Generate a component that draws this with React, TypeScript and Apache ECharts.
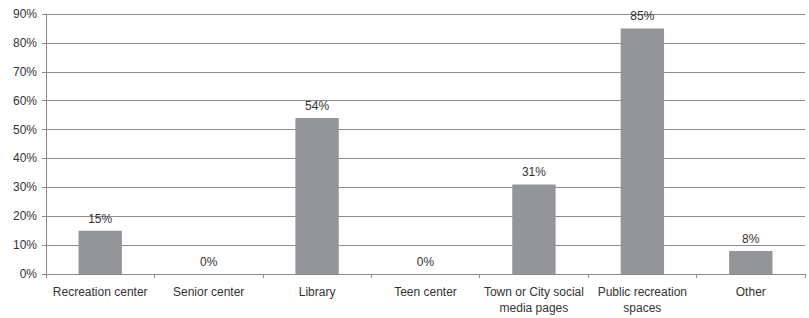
import React, { useEffect, useRef } from "react";
import * as echarts from "echarts";

const categories = [
  "Recreation center",
  "Senior center",
  "Library",
  "Teen center",
  "Town or City social\nmedia pages",
  "Public recreation\nspaces",
  "Other",
];
const values = [15, 0, 54, 0, 31, 85, 8];
const yMax = 90;
const yInterval = 10;

export default function App() {
  const ref = useRef<HTMLDivElement>(null);
  useEffect(() => {
    document.body.style.margin = "0";
    const chart = echarts.init(ref.current!, null, { renderer: "svg" });
    const font = "'Liberation Sans', 'DejaVu Sans', sans-serif";
    chart.setOption({
      animation: false,
      backgroundColor: "#ffffff",
      grid: { left: 46, right: 4, top: 14, bottom: 44, containLabel: false },
      xAxis: {
        type: "category",
        data: categories,
        axisLine: { lineStyle: { color: "#8c8c8c", width: 1 } },
        axisTick: { show: true, alignWithLabel: false, length: 4, lineStyle: { color: "#8c8c8c" } },
        axisLabel: {
          interval: 0,
          color: "#333333",
          fontFamily: font,
          fontSize: 12,
          margin: 10,
          lineHeight: 16,
        },
      },
      yAxis: {
        type: "value",
        min: 0,
        max: yMax,
        interval: yInterval,
        axisLine: { show: true, lineStyle: { color: "#8c8c8c", width: 1 } },
        axisTick: { show: true, length: 4, lineStyle: { color: "#8c8c8c" } },
        axisLabel: {
          formatter: "{value}%",
          color: "#333333",
          fontFamily: font,
          fontSize: 12,
          margin: 9,
        },
        splitLine: { show: true, lineStyle: { color: "#8c8c8c", width: 1 } },
      },
      series: [
        {
          type: "bar",
          data: values,
          barWidth: "40%",
          itemStyle: { color: "#939598" },
          label: {
            show: true,
            position: "top",
            formatter: "{c}%",
            color: "#333333",
            fontFamily: font,
            fontSize: 12,
            distance: 6,
          },
        },
      ],
    });
    return () => chart.dispose();
  }, []);
  return <div ref={ref} style={{ width: 809, height: 318 }} />;
}
